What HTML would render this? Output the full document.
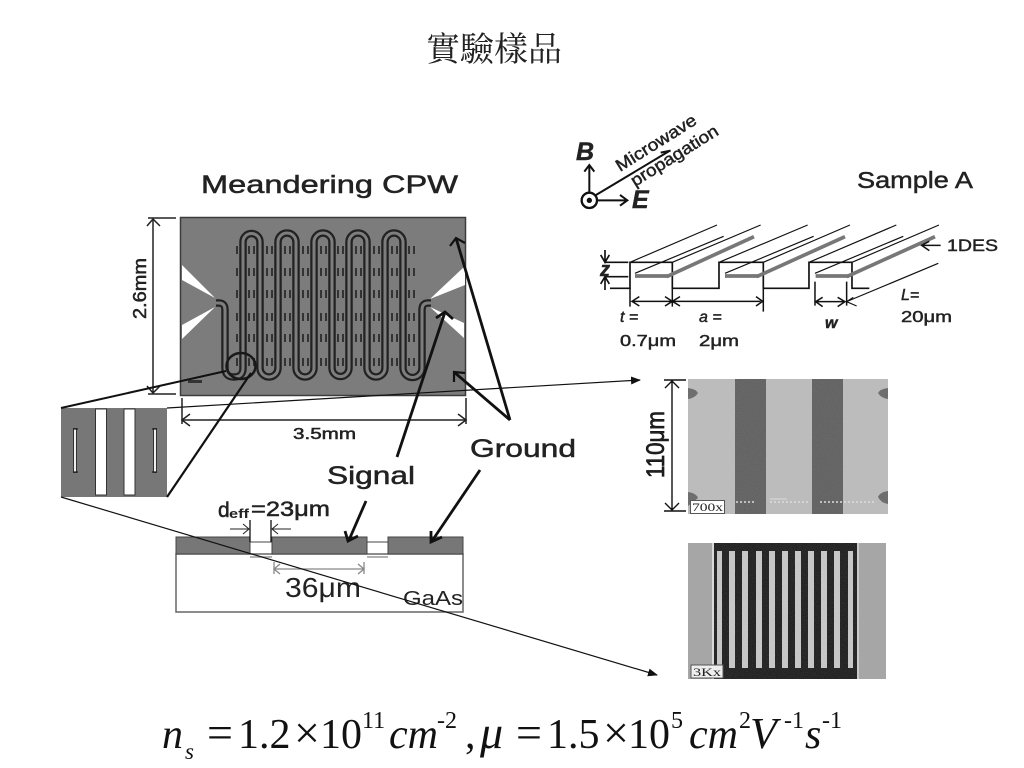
<!DOCTYPE html>
<html><head><meta charset="utf-8"><style>
html,body{margin:0;padding:0;background:#fff}
svg{display:block}
text{font-family:"Liberation Sans","Noto Sans CJK TC",sans-serif;fill:#222}
.f{font-family:"Liberation Serif",serif;fill:#111;font-size:42px}
.o{font-size:46px}
.i{font-style:italic}
.s{font-size:24px}
</style></head><body>
<svg width="1024" height="768" viewBox="0 0 1024 768" xmlns="http://www.w3.org/2000/svg">
<defs>
<marker id="ah" markerWidth="10" markerHeight="10" refX="9" refY="5" orient="auto" markerUnits="userSpaceOnUse"><path d="M0,1 L10,5 L0,9 Z" fill="#111"/></marker>
<filter id="n" x="0" y="0" width="100%" height="100%"><feTurbulence type="fractalNoise" baseFrequency="0.9" numOctaves="1" seed="3"/><feColorMatrix values="0 0 0 0 0.5 0 0 0 0 0.5 0 0 0 0 0.5 0 0 0 0.2 0"/></filter>
</defs>

<text x="426" y="61" style="font-family:'Liberation Serif','Noto Serif CJK SC','Noto Sans CJK TC',serif;font-size:34px" fill="#111">實驗樣品</text>

<text x="201" y="193" font-size="25" stroke="#222" stroke-width=".5" textLength="257" lengthAdjust="spacingAndGlyphs">Meandering CPW</text>

<!-- chip -->
<rect x="180.5" y="217.5" width="285" height="178" fill="#7c7c7c" stroke="#3c3c3c" stroke-width="1.5"/>
<g fill="#fff">
<polygon points="182,265 215,298 182,280"/>
<polygon points="215,307 182,325 182,339"/>
<polygon points="465,266 430,299 465,285"/>
<polygon points="430,307 464,323 464,338"/>
</g>
<g fill="#333" id="holes">
<g id="row"><rect x="236" y="246" width="2" height="8"/><rect x="248" y="246" width="2" height="8"/><rect x="253" y="246" width="2" height="8"/><rect x="266" y="246" width="2" height="8"/><rect x="271" y="246" width="2" height="8"/><rect x="284" y="246" width="2" height="8"/><rect x="289" y="246" width="2" height="8"/><rect x="302" y="246" width="2" height="8"/><rect x="307" y="246" width="2" height="8"/><rect x="320" y="246" width="2" height="8"/><rect x="325" y="246" width="2" height="8"/><rect x="337" y="246" width="2" height="8"/><rect x="342" y="246" width="2" height="8"/><rect x="355" y="246" width="2" height="8"/><rect x="360" y="246" width="2" height="8"/><rect x="373" y="246" width="2" height="8"/><rect x="378" y="246" width="2" height="8"/><rect x="391" y="246" width="2" height="8"/><rect x="396" y="246" width="2" height="8"/><rect x="408" y="246" width="2" height="8"/><rect x="413" y="246" width="2" height="8"/></g>
<use href="#row" y="22"/><use href="#row" y="44"/><use href="#row" y="67"/><use href="#row" y="88"/><use href="#row" y="112"/>
</g>
<g fill="none" stroke-linejoin="round">
<path d="M216,303 H219 Q225,303 225,310 V368 Q225,377 234,377 Q243,377 243,368 V242 A8.5,8.5 0 0 1 260,242 V368 A9,9 0 0 0 278,368 V242 A9,9 0 0 1 296,242 V368 A9,9 0 0 0 314,368 V242 A9,9 0 0 1 332,242 V368 A8.5,8.5 0 0 0 349,368 V242 A9,9 0 0 1 367,242 V368 A9,9 0 0 0 385,368 V242 A9,9 0 0 1 403,242 V368 A9.5,9.5 0 0 0 422,368 V310 Q422,303 428,303 H431" stroke="#222" stroke-width="7.5"/>
<path d="M216,303 H219 Q225,303 225,310 V368 Q225,377 234,377 Q243,377 243,368 V242 A8.5,8.5 0 0 1 260,242 V368 A9,9 0 0 0 278,368 V242 A9,9 0 0 1 296,242 V368 A9,9 0 0 0 314,368 V242 A9,9 0 0 1 332,242 V368 A8.5,8.5 0 0 0 349,368 V242 A9,9 0 0 1 367,242 V368 A9,9 0 0 0 385,368 V242 A9,9 0 0 1 403,242 V368 A9.5,9.5 0 0 0 422,368 V310 Q422,303 428,303 H431" stroke="#7e7e7e" stroke-width="3"/>
</g>
<rect x="188" y="380" width="14" height="3" fill="#333"/>
<ellipse cx="241" cy="366" rx="14.5" ry="13" fill="none" stroke="#1a1a1a" stroke-width="2.5"/>

<!-- 2.6mm dim -->
<g stroke="#222" fill="none" stroke-width="1.5">
<path d="M148,218 H176 M148,394 H176 M153,219 V393"/>
<path d="M147,226 L153,219 L160,226 M147,386 L153,393 L160,386"/>
<path d="M182,398 V424 M466,398 V424 M182,420 H466"/>
<path d="M190,414 L182,420 L190,426 M458,414 L466,420 L458,426"/>
</g>
<text transform="translate(146,319) rotate(-90)" font-size="18" stroke="#222" stroke-width=".5" textLength="61" lengthAdjust="spacingAndGlyphs">2.6mm</text>
<text x="293" y="439" font-size="16" stroke="#222" stroke-width=".5" textLength="63" lengthAdjust="spacingAndGlyphs">3.5mm</text>

<!-- inset -->
<rect x="61" y="408" width="106" height="89" fill="#777"/>
<rect x="95.500" y="409" width="11" height="86" fill="#fff" stroke="#333"/>
<rect x="124" y="409" width="11" height="86" fill="#fff" stroke="#333"/>
<path d="M75,428 V473 M155,428 V473" stroke="#333" stroke-width="4"/>
<path d="M75,429 V472 M155,429 V472" stroke="#eee" stroke-width="2"/>
<path d="M73,429 H78 M73,472 H78 M152,429 H157 M152,472 H157" stroke="#222" stroke-width="1.2"/>

<!-- cross-section -->
<rect x="176" y="554" width="287" height="58" fill="#fff" stroke="#666" stroke-width="1.5"/>
<g fill="#777" stroke="#444"><rect x="176" y="537" width="74" height="17"/><rect x="272" y="537" width="95" height="17"/><rect x="388" y="537" width="75" height="17"/></g>
<path d="M250,542 H272 M367,542 H388" stroke="#444" stroke-width="1"/>
<path d="M250,557 H272 M367,557 H388" stroke="#999" stroke-width="1.5"/>
<path d="M250,520 V542 M271,520 V542" stroke="#111" stroke-width="1.3"/>
<path d="M230,529 H249 M243,524 L249,529 L243,534 M291,529 H272 M278,524 L272,529 L278,534" stroke="#222" fill="none"/>
<text x="218" y="517" font-size="21" stroke="#222" stroke-width=".5">d</text>
<text x="229" y="518" font-size="13" font-weight="bold" textLength="20" lengthAdjust="spacingAndGlyphs">eff</text>
<text x="251" y="516" font-size="21" stroke="#222" stroke-width=".5" textLength="79" lengthAdjust="spacingAndGlyphs">=23μm</text>
<path d="M274,569 H364 M274,562 V574 M364,562 V574 M280,564 L274,569 L280,574 M358,564 L364,569 L358,574" stroke="#888" fill="none" stroke-width="1.3"/>
<text x="285" y="597" font-size="28" fill="#333" textLength="76" lengthAdjust="spacingAndGlyphs">36μm</text>
<text x="403" y="605" font-size="20" fill="#444" textLength="60" lengthAdjust="spacingAndGlyphs">GaAs</text>

<!-- leader lines -->
<g stroke="#111" fill="none">
<path d="M61,408 L226,371" stroke-width="2"/>
<path d="M167,497 L251,373" stroke-width="2.2"/>
<path d="M167,408 L640,380" stroke-width="1.2" marker-end="url(#ah)"/>
<path d="M61,497 L657,675" stroke-width="1.2" marker-end="url(#ah)"/>
<path d="M397,457 L445,312" stroke-width="2.8"/>
<path d="M436,318 L445,312 L453,319" stroke-width="2.8"/>
<path d="M510,420 L456,238" stroke-width="2.8"/>
<path d="M450,246 L456,238 L465,243" stroke-width="2.2"/>
<path d="M510,420 L454,372" stroke-width="2.8"/>
<path d="M454,382 L454,372 L465,373" stroke-width="2.2"/>
<path d="M366,501 L349,540" stroke-width="2.8"/>
<path d="M345,531 L348,541 L358,536" stroke-width="2.8"/>
<path d="M480,470 L432,541" stroke-width="2.8"/>
<path d="M431,531 L431,542 L442,537" stroke-width="2.8"/>
</g>
<text x="327" y="484" font-size="25" stroke="#222" stroke-width=".5" textLength="88" lengthAdjust="spacingAndGlyphs">Signal</text>
<text x="470" y="457" font-size="25" stroke="#222" stroke-width=".5" textLength="106" lengthAdjust="spacingAndGlyphs">Ground</text>

<!-- top right -->
<g transform="translate(570,100) scale(.3333)" fill="none" stroke="#111">
<g stroke-width="6">
<circle cx="58" cy="301" r="23" stroke-width="7"/><circle cx="58" cy="301" r="5" fill="#111"/>
<path d="M58,278 V195 M43,215 L58,195 L73,215"/>
<path d="M80,301 H170 M150,285 L172,301 L150,317"/>
<path d="M78,285 L300,152 M272,158 L302,152"/>
</g>
<g stroke-width="5">
<path d="M120,565 H180 V487 H307 V565 H447 V487 H580 V565 H717 V487 H846 V565 H898"/>
<path d="M180,487 L441,375 M307,487 L572,375 M447,487 L713,375 M580,487 L840,375 M717,487 L979,375 M846,487 L1107,375" stroke-width="3.500"/>
<path d="M195,520 L461,409 M465,520 L731,409 M735,520 L1000,409" stroke-width="3.500"/>
<path d="M290,530 L552,410 M560,530 L825,410 M830,530 L1095,410" stroke="#777" stroke-width="11"/>
<path d="M195,528 H295 M465,528 H565 M737,528 H837" stroke="#777" stroke-width="11"/>
<path d="M105,487 H175 M105,530 H175 M105,450 V487 M105,530 V570 M92,465 L105,487 L118,465 M92,552 L105,530 L118,552"/>
<path d="M180,565 V620 M307,565 V620 M580,565 V635 M190,604 H572 M208,590 L186,604 L208,618 M285,590 L307,604 L285,618 M330,590 L307,604 L330,618 M558,590 L578,604 L558,618" stroke-width="4.500"/>
<path d="M735,545 V617 M830,545 V617 M737,605 H825 M758,592 L737,605 L758,620 M803,592 L825,605 L803,620" stroke-width="4.500"/>
<path d="M830,605 L1105,490 M850,592 L830,605 L860,618" stroke-width="3.500"/>
<path d="M1055,436 H1112 M1078,424 L1055,436 L1078,452" stroke-width="4.500"/>
</g>
</g>
<g stroke="#222" stroke-width=".45">
<text x="576" y="160" font-size="25" font-style="italic" font-weight="bold">B</text>
<text x="632" y="208" font-size="25" font-style="italic" font-weight="bold">E</text>
<text transform="translate(620,172) rotate(-32)" font-size="17" textLength="92" lengthAdjust="spacingAndGlyphs">Microwave</text>
<text transform="translate(635,187) rotate(-32)" font-size="17" textLength="100" lengthAdjust="spacingAndGlyphs">propagation</text>
<text x="857" y="188" font-size="23" textLength="116" lengthAdjust="spacingAndGlyphs">Sample A</text>
<text x="947" y="251" font-size="17" textLength="51" lengthAdjust="spacingAndGlyphs">1DES</text>
<text x="901" y="300" font-size="16" font-style="italic">L=</text>
<text x="901" y="322" font-size="16" textLength="51" lengthAdjust="spacingAndGlyphs">20μm</text>
<text x="620" y="322" font-size="16" font-style="italic">t =</text>
<text x="620" y="346" font-size="16" textLength="56" lengthAdjust="spacingAndGlyphs">0.7μm</text>
<text x="699" y="322" font-size="16" font-style="italic">a =</text>
<text x="699" y="346" font-size="16" textLength="40" lengthAdjust="spacingAndGlyphs">2μm</text>
<text x="825" y="328" font-size="16" font-style="italic" font-weight="bold">w</text>
<text x="600" y="276" font-size="20" font-style="italic" font-weight="bold">z</text>
</g>

<!-- SEM 1 -->
<rect x="688" y="379" width="200" height="135" fill="#bcbcbc"/>
<rect x="735" y="379" width="31" height="135" fill="#5c5c5c"/>
<rect x="812" y="379" width="31" height="135" fill="#5c5c5c"/>
<g fill="#666"><path d="M688,388 Q696,389 698,393 Q695,398 688,399 Z M688,492 Q696,493 698,498 L688,506 Z M888,388 Q880,389 878,393 Q881,398 888,399 Z M888,491 Q880,492 878,497 Q881,503 888,504 Z"/></g>
<rect x="688" y="379" width="200" height="135" filter="url(#n)"/>
<rect x="690.500" y="500.500" width="34" height="13" fill="#fff" stroke="#555"/>
<text x="692" y="511" font-size="12" style="font-family:'Liberation Serif',serif" fill="#333" textLength="31" lengthAdjust="spacingAndGlyphs">700x</text>
<path d="M736,502 H755 M770,502 H810 M820,502 H875" stroke="#ddd" stroke-width="1.5" stroke-dasharray="2 2"/>
<path d="M770,499 H787" stroke="#ddd" stroke-width="1"/>
<path d="M664,380 H686 M664,511 H686 M672,381 V510 M665,388 L672,381 L679,388 M665,503 L672,510 L679,503" stroke="#111" fill="none" stroke-width="1.4"/>
<text transform="translate(664,478) rotate(-90)" font-size="25" stroke="#111" stroke-width=".7" textLength="67" lengthAdjust="spacingAndGlyphs">110μm</text>

<!-- SEM 2 -->
<rect x="688" y="543" width="198" height="136" fill="#a4a4a4"/>
<rect x="712" y="543" width="2" height="136" fill="#ddd"/>
<rect x="714" y="543" width="143" height="136" fill="#171717"/>
<rect x="857" y="543" width="2" height="136" fill="#ccc"/>
<g fill="#c8c8c8">
<rect x="717" y="551" width="5" height="117"/><rect x="729" y="551" width="6" height="117"/><rect x="742" y="551" width="6" height="117"/><rect x="756" y="551" width="6" height="117"/><rect x="769" y="551" width="6" height="117"/><rect x="782" y="551" width="6" height="117"/><rect x="795" y="551" width="6" height="117"/><rect x="808" y="551" width="6" height="117"/><rect x="821" y="551" width="6" height="117"/><rect x="834" y="551" width="6" height="117"/><rect x="848" y="551" width="5" height="117"/>
</g>
<rect x="688" y="543" width="198" height="136" filter="url(#n)"/>
<rect x="691" y="665" width="32" height="13" fill="#eee" stroke="#555"/>
<text x="693" y="676" font-size="12" style="font-family:'Liberation Serif',serif" fill="#333" textLength="28" lengthAdjust="spacingAndGlyphs">3Kx</text>

<!-- formula -->
<g>
<text class="f i" x="162" y="748">n</text>
<text class="f i" x="185" y="759" style="font-size:23px">s</text>
<text class="f o" x="207" y="748">=</text>
<text class="f" x="238" y="748">1.2</text>
<text class="f o" x="294" y="748">×</text>
<text class="f" x="320" y="748">10</text>
<text class="f s" x="362" y="728">11</text>
<text class="f i" x="389" y="748">cm</text>
<text class="f s" x="437" y="728">-2</text>
<text class="f" x="465" y="748">,</text>
<text class="f i" x="480" y="748" style="font-size:46px">μ</text>
<text class="f o" x="516" y="748">=</text>
<text class="f" x="547" y="748">1.5</text>
<text class="f o" x="603" y="748">×</text>
<text class="f" x="628" y="748">10</text>
<text class="f s" x="671" y="728">5</text>
<text class="f i" x="689" y="748">cm</text>
<text class="f s" x="739" y="728">2</text>
<text class="f i" x="750" y="748" style="font-size:44px">V</text>
<text class="f s" x="784" y="728">-1</text>
<text class="f i" x="805" y="748">s</text>
<text class="f s" x="822" y="728">-1</text>
</g>
</svg>
</body></html>
